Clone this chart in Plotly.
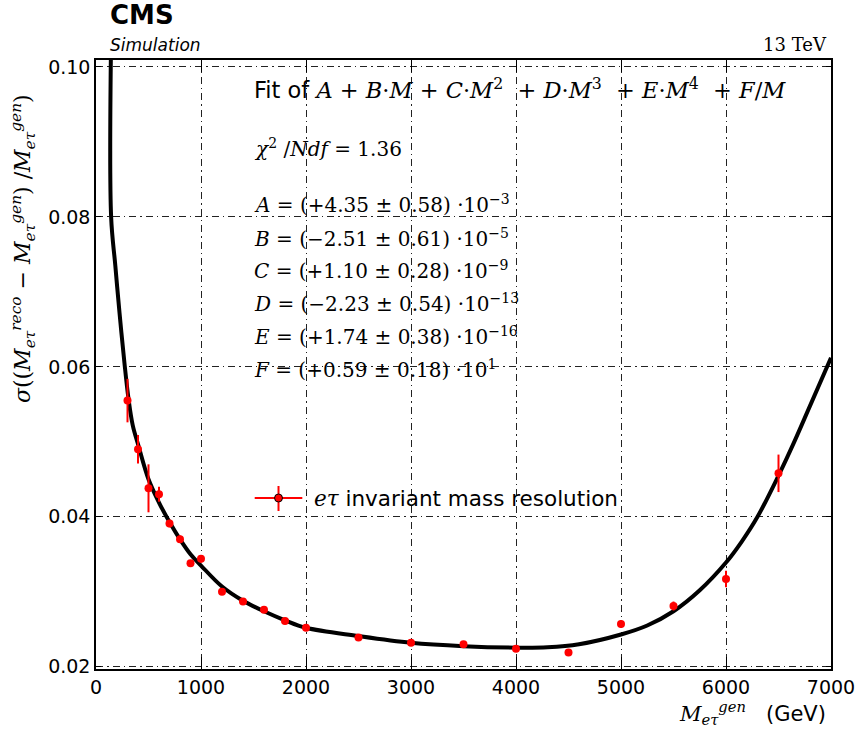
import plotly.graph_objects as go

# ---- data ----
mass = [300, 400, 500, 600, 700, 800, 900, 1000, 1200, 1400, 1600, 1800, 2000,
        2500, 3000, 3500, 4000, 4500, 5000, 5500, 6000, 6500]
sigma = [0.0555, 0.0490, 0.0438, 0.0430, 0.0391, 0.0370, 0.0338, 0.0344, 0.0300,
         0.0287, 0.0276, 0.0261, 0.0252, 0.0239, 0.0232, 0.0230, 0.0224, 0.0219,
         0.0257, 0.0281, 0.0317, 0.0458]
sigma_err = [0.0029, 0.0019, 0.0032, 0.0010, 0.0005, 0.0005, 0.0004, 0.0005, 0.0004,
             0.0003, 0.0004, 0.0003, 0.0002, 0.0002, 0.0002, 0.0002, 0.0002, 0.0001,
             0.0005, 0.0006, 0.0011, 0.0025]

# fitted curve
fit_mass = [143, 144, 184, 224, 271, 309, 350, 406, 500, 600, 700, 800, 900, 1000,
            1200, 1400, 1600, 1800, 2000, 2500, 3000, 3500, 4000, 4300, 4600, 5000,
            5250, 5500, 5750, 6000, 6150, 6300, 6500, 6650, 6800, 7000]
fit_sigma = [0.1030, 0.0800, 0.0735, 0.0672, 0.0605, 0.0558, 0.0522, 0.0494, 0.0450,
             0.0419, 0.0393, 0.0370, 0.0350, 0.0335, 0.0307, 0.0288, 0.0274, 0.0262,
             0.0252, 0.0241, 0.0232, 0.02275, 0.02255, 0.0226, 0.0230, 0.0243, 0.0255,
             0.0274, 0.0302, 0.0339, 0.0367, 0.0400, 0.0455, 0.0500, 0.0548, 0.0612]

x_ticks = [0, 1000, 2000, 3000, 4000, 5000, 6000, 7000]
y_ticks = [0.02, 0.04, 0.06, 0.08, 0.10]
y_tick_labels = ["0.02", "0.04", "0.06", "0.08", "0.10"]

fit_params = [
    ("A", "+4.35", "0.58", "−3"),
    ("B", "−2.51", "0.61", "−5"),
    ("C", "+1.10", "0.28", "−9"),
    ("D", "−2.23", "0.54", "−13"),
    ("E", "+1.74", "0.38", "−16"),
    ("F", "+0.59", "0.18", "1"),
]
chi2_ndf = "1.36"

W, H = 867, 733
ML, MR, MT, MB = 96, 30, 60, 64
PW, PH = W - ML - MR, H - MT - MB


def px(xp):
    return (xp - ML) / PW


def py(yp):
    return (H - MB - yp) / PH


SERIF = "DejaVu Serif"
SANS = "DejaVu Sans"
RED = "#ff0000"

fig = go.Figure()

fig.add_trace(go.Scatter(
    x=fit_mass, y=fit_sigma, mode="lines",
    line=dict(color="black", width=4, shape="spline", smoothing=1.0),
    showlegend=False, hoverinfo="skip"))

fig.add_trace(go.Scatter(
    x=mass, y=sigma, mode="markers",
    marker=dict(color=RED, size=8, line=dict(width=0)),
    error_y=dict(type="data", array=sigma_err, color=RED, thickness=2, width=0),
    showlegend=False))

grid = dict(showgrid=True, gridcolor="#222222", gridwidth=1, griddash="7px,4px,1.5px,4px")

fig.update_xaxes(range=[0, 7000], tickvals=x_ticks, ticks="inside", ticklen=12, tickwidth=1,
                 tickcolor="black", showline=True, linecolor="black", linewidth=1.5, mirror="ticks",
                 tickfont=dict(family=SANS, size=19, color="black"), zeroline=False, **grid)
fig.update_yaxes(range=[0.0197, 0.10093], tickvals=y_ticks, ticktext=y_tick_labels, ticks="inside",
                 ticklen=5, tickwidth=1, tickcolor="black", showline=True, linecolor="black",
                 linewidth=1.5, mirror="ticks", tickfont=dict(family=SANS, size=19, color="black"),
                 zeroline=False, **grid)

ann = []
# header
ann.append(dict(x=px(108), y=py(15), xref="paper", yref="paper", xanchor="left", yanchor="middle",
                text="<b>CMS</b>", font=dict(family=SANS, size=26, color="black"), showarrow=False))
ann.append(dict(x=px(108), y=py(45), xref="paper", yref="paper", xanchor="left", yanchor="middle",
                text="<i>Simulation</i>", font=dict(family=SANS, size=17, color="black"), showarrow=False))
ann.append(dict(x=px(835), y=py(44), xref="paper", yref="paper", xanchor="right", yanchor="middle",
                text="13 TeV", font=dict(family=SERIF, size=18, color="black"), showarrow=False))

# fit formula
M = "<i>M</i>"
formula = (f'Fit of <span style="font-family:{SERIF}"><i>A</i> + <i>B</i>·{M} + <i>C</i>·{M}<sup>2</sup>'
           f'  + <i>D</i>·{M}<sup>3</sup>  + <i>E</i>·{M}<sup>4</sup>  + <i>F</i>/{M}</span>')
ann.append(dict(x=px(253), y=py(88), xref="paper", yref="paper", xanchor="left", yanchor="middle",
                text=formula, font=dict(family=SANS, size=22.5, color="black"), showarrow=False))
ann.append(dict(x=px(253), y=py(148), xref="paper", yref="paper", xanchor="left", yanchor="middle",
                text=f"<i>χ</i><sup>2</sup> /<i>Ndf</i> = {chi2_ndf}",
                font=dict(family=SERIF, size=20, color="black"), showarrow=False))
ys = [204, 238, 270, 303, 336, 369]
for (name, val, err, exp), yy in zip(fit_params, ys):
    ann.append(dict(x=px(253), y=py(yy), xref="paper", yref="paper", xanchor="left", yanchor="middle",
                    text=f"<i>{name}</i> = ({val} ± {err}) ·10<sup>{exp}</sup>",
                    font=dict(family=SERIF, size=20, color="black"), showarrow=False))

# legend
ann.append(dict(x=px(314), y=py(498), xref="paper", yref="paper", xanchor="left", yanchor="middle",
                text=f'<span style="font-family:{SERIF}"><i>eτ</i></span> invariant mass resolution',
                font=dict(family=SANS, size=21.5, color="black"), showarrow=False))

# axis titles
ann.append(dict(x=px(22), y=py(92), xref="paper", yref="paper", xanchor="center", yanchor="top",
                textangle=-90,
                text=("<i>σ</i>((<i>M</i><sub><i>eτ</i></sub><sup><i>reco</i></sup> − "
                      "<i>M</i><sub><i>eτ</i></sub><sup><i>gen</i></sup>) /<i>M</i><sub><i>eτ</i></sub><sup><i>gen</i></sup>)"),
                font=dict(family=SERIF, size=22, color="black"), showarrow=False))
ann.append(dict(x=px(834), y=py(713), xref="paper", yref="paper", xanchor="right", yanchor="middle",
                text=(f'<span style="font-family:{SERIF}"><i>M</i><sub><i>eτ</i></sub><sup><i>gen</i></sup></span>'
                      '   (GeV)'),
                font=dict(family=SANS, size=21, color="black"), showarrow=False))

shapes = [
    dict(type="line", xref="paper", yref="paper", x0=px(256), x1=px(304), y0=py(498), y1=py(498),
         line=dict(color=RED, width=2)),
    dict(type="line", xref="paper", yref="paper", x0=px(280), x1=px(280), y0=py(486), y1=py(511),
         line=dict(color=RED, width=2)),
    dict(type="circle", xref="paper", yref="paper", x0=px(276), x1=px(284), y0=py(494), y1=py(502),
         fillcolor=RED, line=dict(color="black", width=1)),
]

fig.update_layout(
    width=W, height=H, margin=dict(l=ML, r=MR, t=MT, b=MB, pad=0),
    paper_bgcolor="white", plot_bgcolor="white",
    annotations=ann, shapes=shapes, showlegend=False,
)

fig.write_html("out.html")
